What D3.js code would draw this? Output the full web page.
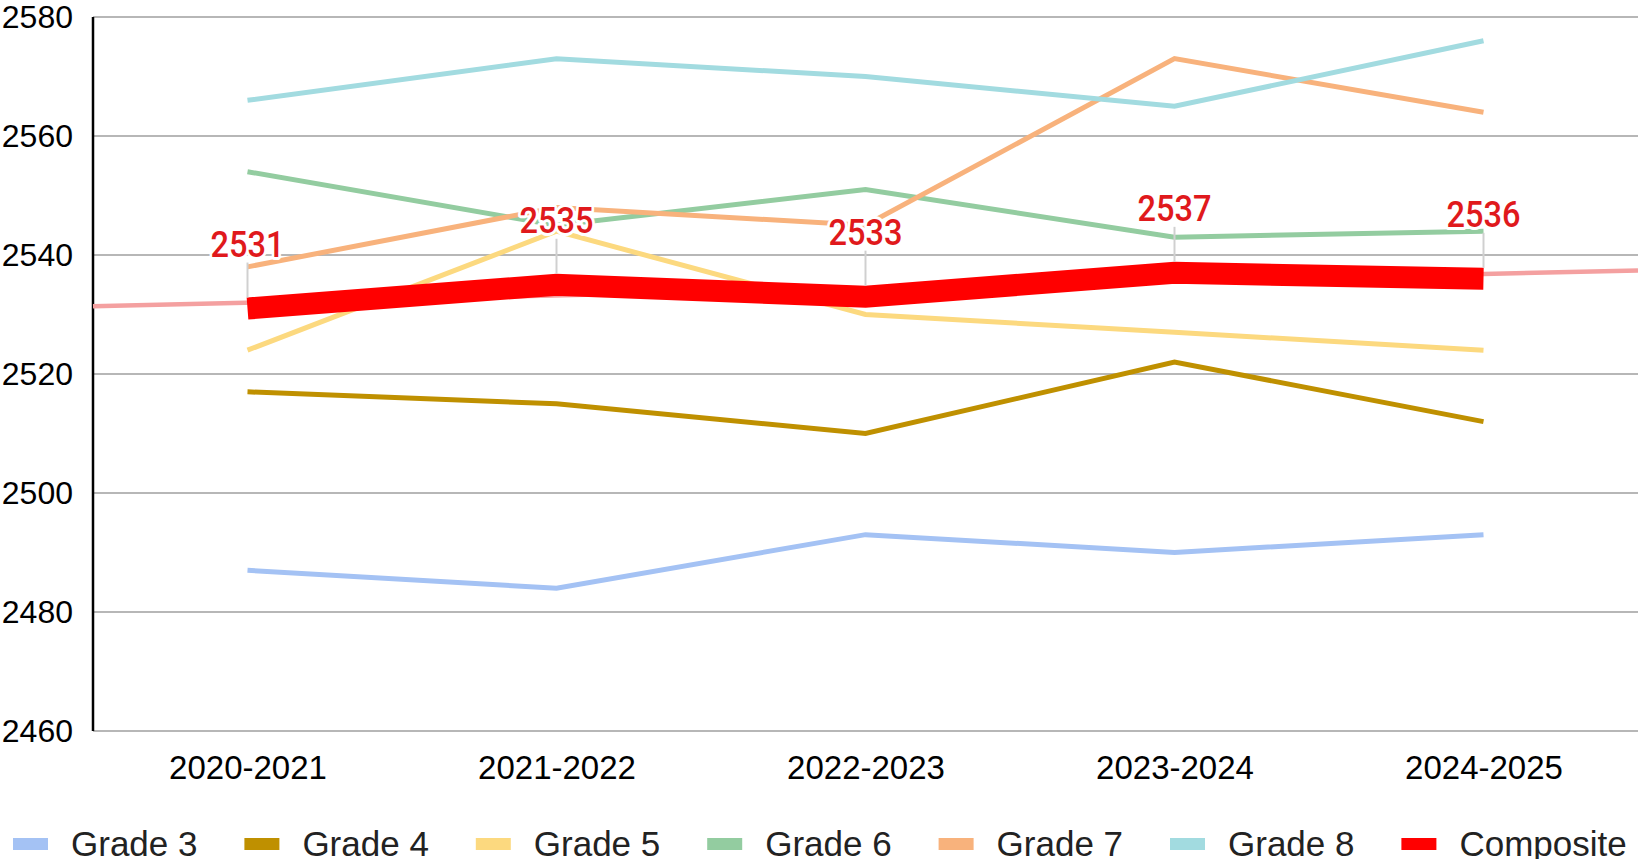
<!DOCTYPE html>
<html><head><meta charset="utf-8">
<script src="https://cdn.jsdelivr.net/npm/d3@7"></script>
<style>body{margin:0;background:#fff}svg{display:block}</style>
</head><body>
<svg id="c" width="1638" height="859"></svg>
<script>
const categories = ["2020-2021","2021-2022","2022-2023","2023-2024","2024-2025"];
const grade3 = [2487, 2484, 2493, 2490, 2493];
const grade4 = [2517, 2515, 2510, 2522, 2512];
const grade5 = [2524, 2544, 2530, 2527, 2524];
const grade6 = [2554, 2545, 2551, 2543, 2544];
const grade7 = [2538, 2548, 2545, 2573, 2564];
const grade8 = [2566, 2573, 2570, 2565, 2576];
const composite = [2531, 2535, 2533, 2537, 2536];
const yTicks = [2460, 2480, 2500, 2520, 2540, 2560, 2580];
const seriesNames = ["Grade 3","Grade 4","Grade 5","Grade 6","Grade 7","Grade 8","Composite"];
const seriesColors = ["#a4c2f4","#bf9000","#fcd97f","#93cca0","#f8b27c","#a2dbe0","#ff0000"];

const svg = d3.select("#c");
const L = 93, R = 1638, T = 17, B = 731;
const x = d3.scalePoint().domain(categories).range([L, R]).padding(0.5);
const y = d3.scaleLinear().domain([2460, 2580]).range([B, T]);

// gridlines
svg.append("g").selectAll("line").data(yTicks).join("line")
  .attr("x1", L).attr("x2", R).attr("y1", d => y(d)).attr("y2", d => y(d))
  .attr("stroke", "#b7b7b7").attr("stroke-width", 2);

// y axis
const ya = svg.append("g").attr("transform", `translate(${L},0)`)
  .call(d3.axisLeft(y).tickValues(yTicks).tickSize(0).tickPadding(20).tickFormat(d3.format("d")));
ya.select(".domain").remove();
ya.selectAll("text").attr("font-family", "'Liberation Sans', Arial, sans-serif").attr("font-size", 32).attr("fill", "#000");
svg.append("line").attr("x1", L).attr("x2", L).attr("y1", T).attr("y2", B)
  .attr("stroke", "#000").attr("stroke-width", 2.5);

// x axis labels
const xa = svg.append("g").attr("transform", `translate(0,${B})`)
  .call(d3.axisBottom(x).tickSize(0).tickPadding(25));
xa.select(".domain").remove();
xa.selectAll("text").attr("font-family", "'Liberation Sans', Arial, sans-serif").attr("font-size", 33).attr("fill", "#000");

const line = d3.line().x((d, i) => x(categories[i])).y(d => y(d));
const grades = [grade3, grade4, grade5, grade6, grade7, grade8];
grades.forEach((s, k) => {
  svg.append("path").datum(s).attr("d", line).attr("fill", "none")
    .attr("stroke", seriesColors[k]).attr("stroke-width", 5);
});

// linear trendline of composite
const idx = composite.map((d, i) => i);
const mx = d3.mean(idx), my = d3.mean(composite);
const slope = d3.sum(idx, i => (i - mx) * (composite[i] - my)) / d3.sum(idx, i => (i - mx) ** 2);
const icpt = my - slope * mx;
const step = x.step();
const xi = px => (px - x(categories[0])) / step;
svg.append("line")
  .attr("x1", L).attr("y1", y(icpt + slope * xi(L)))
  .attr("x2", R).attr("y2", y(icpt + slope * xi(R)))
  .attr("stroke", "#f4a0a0").attr("stroke-width", 4.5);

svg.append("path").datum(composite).attr("d", line).attr("fill", "none")
  .attr("stroke", "#ff0000").attr("stroke-width", 22).attr("stroke-linecap", "butt");

// data labels
const lg = svg.append("g");
composite.forEach((v, i) => {
  const px = x(categories[i]), py = y(v);
  lg.append("line").attr("x1", px).attr("x2", px).attr("y1", py - 46).attr("y2", py - 11)
    .attr("stroke", "#d0d0d0").attr("stroke-width", 2);
  lg.append("text").attr("transform", `translate(${px},${py - 52}) scale(0.88,1)`)
    .attr("text-anchor", "middle")
    .attr("font-family", "Roboto, sans-serif").attr("font-size", 37).attr("font-weight", 500)
    .attr("fill", "#e0191c").attr("stroke", "#fff").attr("stroke-width", 6)
    .attr("stroke-linejoin", "round").attr("paint-order", "stroke")
    .text(v);
});

// legend
const leg = svg.append("g");
seriesNames.forEach((n, i) => {
  const gx = 13 + i * 231.4;
  leg.append("rect").attr("x", gx).attr("y", 838).attr("width", 35).attr("height", 12)
    .attr("fill", seriesColors[i]);
  leg.append("text").attr("x", gx + 58).attr("y", 856)
    .attr("font-family", "'Liberation Sans', Arial, sans-serif").attr("font-size", 35)
    .attr("fill", "#222").text(n);
});
</script>
</body></html>
